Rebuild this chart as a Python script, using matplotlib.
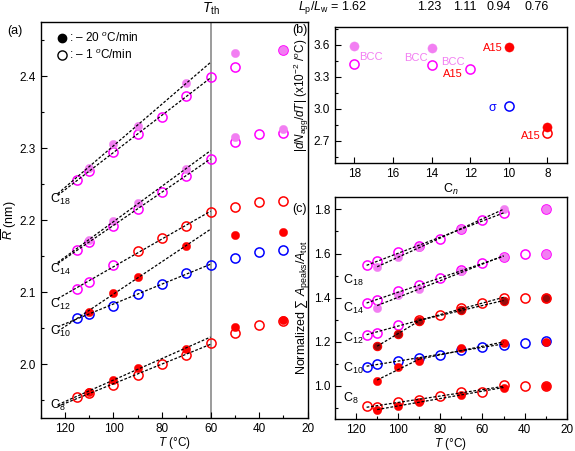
import numpy as np
import matplotlib
matplotlib.use("Agg")
import matplotlib.pyplot as plt
from matplotlib.lines import Line2D
from matplotlib.ticker import MultipleLocator
import matplotlib.transforms as mtransforms

plt.rcParams['font.family'] = ['Liberation Sans', 'DejaVu Sans']
plt.rcParams['mathtext.fontset'] = 'custom'
plt.rcParams['mathtext.rm'] = 'Liberation Sans'
plt.rcParams['mathtext.it'] = 'Liberation Sans:italic'
plt.rcParams['mathtext.bf'] = 'Liberation Sans:bold'
plt.rcParams['font.size'] = 8

MAG = '#FF00FF'
VIO = '#F27EF2'
RED = '#FF0000'
BLUE = '#0000FF'
DRED = '#9B0A0A'

# ---------------- panel (a) data: mean radius R (nm) ----------------
T_open_a = [115, 110, 100, 90, 80, 70, 60, 50, 40, 30]
T_fill_a = [110, 100, 90, 70, 50, 30]
T18_open_a = [115, 110, 100, 90, 80, 70, 60, 50, 30]

a_C18_open = [2.256, 2.268, 2.295, 2.319, 2.343, 2.372, 2.399, 2.412, 2.436]
a_C18_fill = [2.273, 2.306, 2.331, 2.390, 2.432, 2.436]
a_C14_open = [2.159, 2.170, 2.192, 2.216, 2.239, 2.262, 2.2855, 2.309, 2.319, 2.321]
a_C14_fill = [2.172, 2.199, 2.224, 2.271, 2.316, 2.327]
a_C12_open = [2.105, 2.114, 2.138, 2.158, 2.175, 2.192, 2.211, 2.219, 2.226, 2.227]
a_C12_open_colors = ['#FF00FF'] * 3 + ['#FF0000'] * 7
a_C10_open = [2.0646, 2.070, 2.0817, 2.097, 2.112, 2.127, 2.138, 2.148, 2.156, 2.159]
a_C10_fill = [2.073, 2.0997, 2.121, 2.164, 2.180, 2.184]
a_C8_open = [1.955, 1.960, 1.971, 1.985, 2.001, 2.013, 2.030, 2.044, 2.055, 2.060]
a_C8_fill = [1.962, 1.979, 1.995, 2.022, 2.052, 2.061]

labels_a = ['C$_{18}$', 'C$_{14}$', 'C$_{12}$', 'C$_{10}$', 'C$_{8}$']
labels_a_y = [2.229, 2.1316, 2.083, 2.046, 1.943]

# ---------------- panel (b) data ----------------
Cn_fill = [18, 14, 10, 8]
b_fill = [3.587, 3.566, 3.578, 2.831]
b_fill_colors = [VIO, VIO, RED, RED]
Cn_open = [18, 14, 12, 10, 8]
b_open = [3.424, 3.414, 3.371, 3.027, 2.775]
b_open_colors = [MAG, MAG, MAG, BLUE, RED]
lp_lw = ['1.62', '1.23', '1.11', '0.94', '0.76']

# ---------------- panel (c) data ----------------
T_open_c = [115, 110, 100, 90, 80, 70, 60, 50, 40, 30]
T18_open_c = [115, 110, 100, 90, 80, 70, 60, 50, 30]
T_fill_c = [110, 100, 90, 70, 50, 30]
c_C18_open = [1.5475, 1.566, 1.605, 1.635, 1.668, 1.710, 1.751, 1.786, 1.800]
c_C18_fill = [1.537, 1.585, 1.630, 1.713, 1.800, 1.800]
c_C14_open = [1.374, 1.389, 1.430, 1.457, 1.490, 1.525, 1.555, 1.585, 1.600, 1.600]
c_C14_fill = [1.354, 1.412, 1.439, 1.520, 1.585, 1.600]
c_C12_open = [1.231, 1.241, 1.276, 1.299, 1.321, 1.354, 1.377, 1.397, 1.400, 1.400]
c_C12_open_colors = ['#FF00FF'] * 3 + ['#FF0000'] * 7
c_C12_fill = [1.181, 1.235, 1.296, 1.344, 1.386, 1.400]
c_C10_open = [1.085, 1.0995, 1.115, 1.128, 1.140, 1.163, 1.178, 1.186, 1.193, 1.204]
c_C10_fill = [1.020, 1.087, 1.115, 1.173, 1.193, 1.200]
c_C8_open = [0.9095, 0.906, 0.925, 0.937, 0.952, 0.974, 0.974, 1.0045, 1.001, 1.001]
c_C8_fill = [0.891, 0.909, 0.929, 0.959, 0.992, 1.001]
labels_c_y = [1.48, 1.352, 1.216, 1.08, 0.941]

OPEN_MS = 6.6
FILL_MS = 6.0


def open_pts(ax, T, y, colors):
    if isinstance(colors, str):
        colors = [colors] * len(T)
    for t, v, c in zip(T, y, colors):
        ax.plot([t], [v], 'o', ms=OPEN_MS, mfc='none', mec=c, mew=1.1, zorder=3)


def fill_pts(ax, T, y, color, edge=None):
    ax.plot(T, y, 'o', ms=FILL_MS, mfc=color, mec=edge if edge else color,
            mew=0.8 if edge else 0.3, ls='none', zorder=3.5)


def fit_line(ax, T, y, tmin, tmax, t0, t1):
    T = np.asarray(T, float)
    y = np.asarray(y, float)
    m = (T >= tmin) & (T <= tmax)
    p = np.polyfit(T[m], y[m], 1)
    xs = np.array([t0, t1])
    ax.plot(xs, np.polyval(p, xs), ls=(0, (2.2, 1.4)), color='black', lw=0.9, zorder=5)


def style(ax):
    ax.tick_params(direction='in', which='both', top=False, right=False, labelsize=8.5)
    ax.tick_params(which='major', length=4, width=0.8)
    ax.tick_params(which='minor', length=2.5, width=0.8)
    for s in ax.spines.values():
        s.set_linewidth(1.0)


fig = plt.figure(figsize=(5.75, 4.51), dpi=100)

# ---------------- (a) ----------------
axa = fig.add_axes([0.0708, 0.0721, 0.4641, 0.8791])
axa.axvline(60, color='#8a8a8a', lw=1.2, zorder=1)

open_pts(axa, T18_open_a, a_C18_open, MAG)
fill_pts(axa, T_fill_a, a_C18_fill, VIO)
open_pts(axa, T_open_a, a_C14_open, MAG)
fill_pts(axa, T_fill_a, a_C14_fill, VIO)
open_pts(axa, T_open_a, a_C12_open, a_C12_open_colors)
open_pts(axa, T_open_a, a_C10_open, BLUE)
fill_pts(axa, T_fill_a, a_C10_fill, RED)
open_pts(axa, T_open_a, a_C8_open, RED)
fill_pts(axa, T_fill_a, a_C8_fill, RED)

for T, y in [(T18_open_a, a_C18_open), (T_fill_a, a_C18_fill),
             (T_open_a, a_C14_open), (T_fill_a, a_C14_fill),
             (T_open_a, a_C12_open),
             (T_open_a, a_C10_open), (T_fill_a, a_C10_fill),
             (T_open_a, a_C8_open), (T_fill_a, a_C8_fill)]:
    fit_line(axa, T, y, 60, 115, 123, 60)

for lab, yv in zip(labels_a, labels_a_y):
    axa.text(126.3, yv, lab, ha='left', va='center', fontsize=9)

axa.set_xlim(130, 20)
axa.set_ylim(1.925, 2.475)
axa.xaxis.set_major_locator(MultipleLocator(20))
axa.xaxis.set_minor_locator(MultipleLocator(10))
axa.yaxis.set_minor_locator(MultipleLocator(0.05))
axa.set_yticks([2.0, 2.1, 2.2, 2.3, 2.4])
axa.set_yticklabels(['2.0', '2.1', '2.2', '2.3', '2.4'])
style(axa)
axa.set_xlabel(r'$T$ (°C)', fontsize=8.5, labelpad=0)
axa.set_ylabel(r'$\overline{R}$ (nm)', fontsize=9)
axa.yaxis.set_label_coords(-0.08, 0.5)
trans = mtransforms.blended_transform_factory(axa.transData, axa.transAxes)
axa.text(60, 1.012, r'$T_{\rm th}$', transform=trans, ha='center', va='bottom', fontsize=10)

handles = [Line2D([], [], marker='o', ls='none', ms=FILL_MS, mfc='black', mec='black'),
           Line2D([], [], marker='o', ls='none', ms=OPEN_MS, mfc='none', mec='black', mew=1.0)]
axa.legend(handles, [r': – 20 $^o$C/min', r': – 1 $^o$C/min'], loc='upper left',
           bbox_to_anchor=(0.03, 1.0), frameon=False, handlelength=0.7,
           handletextpad=0.25, labelspacing=0.25, fontsize=8.5, borderpad=0.3)
fig.text(0.012, 0.931, '(a)', fontsize=9, va='center', ha='left')

# ---------------- (b) ----------------
axb = fig.add_axes([0.5826, 0.638, 0.403, 0.3028])
for c, v, col in zip(Cn_open, b_open, b_open_colors):
    axb.plot([c], [v], 'o', ms=OPEN_MS, mfc='none', mec=col, mew=1.1, zorder=3)
for c, v, col in zip(Cn_fill, b_fill, b_fill_colors):
    axb.plot([c], [v], 'o', ms=OPEN_MS, mfc=col, mec=col, mew=0.3, zorder=3)
axb.text(10.84, 3.006, 'σ', color=BLUE, ha='center', va='center', fontsize=9)
axb.text(17.13, 3.484, 'BCC', color=VIO, ha='center', va='center', fontsize=8)
axb.text(14.83, 3.478, 'BCC', color=VIO, ha='center', va='center', fontsize=8)
axb.text(12.89, 3.437, 'BCC', color=VIO, ha='center', va='center', fontsize=8)
axb.text(12.89, 3.327, 'A15', color=RED, ha='center', va='center', fontsize=8)
axb.text(10.83, 3.575, 'A15', color=RED, ha='center', va='center', fontsize=8)
axb.text(8.86, 2.744, 'A15', color=RED, ha='center', va='center', fontsize=8)
axb.set_xlim(19, 7)
axb.set_ylim(2.49, 3.77)
axb.xaxis.set_major_locator(MultipleLocator(2))
axb.yaxis.set_minor_locator(MultipleLocator(0.15))
axb.set_yticks([2.7, 3.0, 3.3, 3.6])
axb.set_yticklabels(['2.7', '3.0', '3.3', '3.6'])
style(axb)
axb.set_xlabel(r'C$_{\it{n}}$', fontsize=9, labelpad=1)
axb.set_ylabel(r'$|dN_{\rm agg}/dT|$ (x10$^{-2}$ /$^o$C)', fontsize=8.5, labelpad=2)
transb = mtransforms.blended_transform_factory(axb.transData, fig.transFigure)
lp_x = [17.31, 14.14, 12.29, 10.52, 8.56]
axb.text(lp_x[0], 0.984, r'$L_{\rm p}/L_{\rm w}$ = ' + lp_lw[0], transform=transb,
         ha='right', va='center', fontsize=9)
for xv, s in zip(lp_x[1:], lp_lw[1:]):
    axb.text(xv, 0.984, s, transform=transb, ha='center', va='center', fontsize=9)
fig.text(0.508, 0.933, '(b)', fontsize=9, va='center', ha='left')

# ---------------- (c) ----------------
axc = fig.add_axes([0.5826, 0.071, 0.403, 0.4915])
open_pts(axc, T18_open_c, c_C18_open, MAG)
fill_pts(axc, T_fill_c, c_C18_fill, VIO)
open_pts(axc, T_open_c, c_C14_open, MAG)
fill_pts(axc, T_fill_c, c_C14_fill, VIO)
open_pts(axc, T_open_c, c_C12_open, c_C12_open_colors)
fill_pts(axc, T_fill_c, c_C12_fill, DRED, edge=RED)
open_pts(axc, T_open_c, c_C10_open, BLUE)
fill_pts(axc, T_fill_c, c_C10_fill, RED)
open_pts(axc, T_open_c, c_C8_open, RED)
fill_pts(axc, T_fill_c, c_C8_fill, RED)

for T, y in [(T18_open_c, c_C18_open), (T_open_c, c_C14_open), (T_open_c, c_C12_open),
             (T_open_c, c_C10_open), (T_open_c, c_C8_open)]:
    fit_line(axc, T, y, 50, 115, 115, 50)
for T, y in [(T_fill_c, c_C18_fill), (T_fill_c, c_C14_fill), (T_fill_c, c_C8_fill)]:
    fit_line(axc, T, y, 50, 110, 110, 50)
for T, y in [(T_fill_c, c_C12_fill), (T_fill_c, c_C10_fill)]:
    fit_line(axc, T, y, 90, 110, 110, 90)
    fit_line(axc, T, y, 50, 90, 90, 50)

for lab, yv in zip(labels_a, labels_c_y):
    axc.text(126.3, yv, lab, ha='left', va='center', fontsize=9)

axc.set_xlim(130, 20)
axc.set_ylim(0.85, 1.855)
axc.xaxis.set_major_locator(MultipleLocator(20))
axc.xaxis.set_minor_locator(MultipleLocator(10))
axc.yaxis.set_minor_locator(MultipleLocator(0.1))
axc.set_yticks([1.0, 1.2, 1.4, 1.6, 1.8])
axc.set_yticklabels(['1.0', '1.2', '1.4', '1.6', '1.8'])
style(axc)
axc.set_xlabel(r'$T$ (°C)', fontsize=8.5, labelpad=0)
axc.set_ylabel(r'Normalized $\sum\ A_{\rm peaks}/A_{\rm tot}$', fontsize=9, labelpad=2)
fig.text(0.508, 0.536, '(c)', fontsize=9, va='center', ha='left')

fig.savefig('out.png', dpi=100)
